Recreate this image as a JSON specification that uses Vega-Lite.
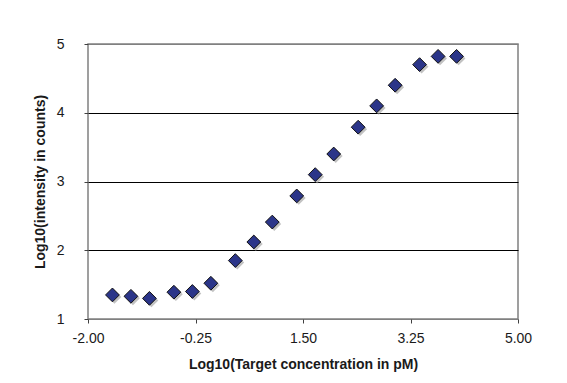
{
  "$schema": "https://vega.github.io/schema/vega-lite/v6.json",
  "width": 430,
  "height": 275,
  "autosize": "none",
  "padding": {"left": 88, "top": 44, "right": 49, "bottom": 64},
  "background": "white",
  "config": {
    "view": {"stroke": "#808080", "strokeWidth": 1.5},
    "font": "Liberation Sans"
  },
  "data": {
    "values": [
      {"x": -1.602, "y": 1.35},
      {"x": -1.301, "y": 1.33},
      {"x": -1.0, "y": 1.30},
      {"x": -0.602, "y": 1.39},
      {"x": -0.301, "y": 1.40},
      {"x": 0.0, "y": 1.52},
      {"x": 0.398, "y": 1.85},
      {"x": 0.699, "y": 2.12},
      {"x": 1.0, "y": 2.41},
      {"x": 1.398, "y": 2.79},
      {"x": 1.699, "y": 3.10},
      {"x": 2.0, "y": 3.40},
      {"x": 2.398, "y": 3.79},
      {"x": 2.699, "y": 4.10},
      {"x": 3.0, "y": 4.40},
      {"x": 3.398, "y": 4.70},
      {"x": 3.699, "y": 4.82},
      {"x": 4.0, "y": 4.82}
    ]
  },
  "encoding": {
    "x": {
      "field": "x",
      "type": "quantitative",
      "scale": {"domain": [-2, 5], "nice": false, "zero": false},
      "axis": {
        "values": [-2, -0.25, 1.5, 3.25, 5],
        "format": ".2f",
        "labelExpr": "replace(datum.label, '\u2212', '-')",
        "title": "Log10(Target concentration in pM)",
        "titleFont": "Liberation Sans",
        "titleFontSize": 14,
        "titleFontWeight": "bold",
        "titleColor": "#1a1a1a",
        "titlePadding": 12,
        "labelFont": "Liberation Sans",
        "labelFontSize": 14,
        "labelColor": "#1a1a1a",
        "labelPadding": 8,
        "domain": false,
        "grid": false,
        "ticks": true,
        "tickSize": 4,
        "tickColor": "#404040",
        "labelFlush": false
      }
    },
    "y": {
      "field": "y",
      "type": "quantitative",
      "scale": {"domain": [1, 5], "nice": false, "zero": false},
      "axis": {
        "values": [1, 2, 3, 4, 5],
        "title": "Log10(intensity in counts)",
        "titleFont": "Liberation Sans",
        "titleFontSize": 14,
        "titleFontWeight": "bold",
        "titleColor": "#1a1a1a",
        "titlePadding": 9,
        "labelFont": "Liberation Sans",
        "labelFontSize": 14,
        "labelColor": "#1a1a1a",
        "labelPadding": 20,
        "domain": false,
        "grid": true,
        "gridColor": {"condition": {"test": "datum.value == 1 || datum.value == 5", "value": "#808080"}, "value": "#000000"},
        "gridWidth": 1,
        "ticks": true,
        "tickSize": 4,
        "tickColor": "#404040",
        "labelFlush": false
      }
    }
  },
  "layer": [
    {
      "mark": {"type": "point", "shape": "diamond", "size": 190, "filled": true, "color": "#9a9a9a", "opacity": 0.6, "xOffset": 2, "yOffset": 2}
    },
    {
      "mark": {"type": "point", "shape": "diamond", "size": 190, "filled": true, "fill": "#2b3589", "stroke": "#111111", "strokeWidth": 1, "opacity": 1}
    }
  ]
}
